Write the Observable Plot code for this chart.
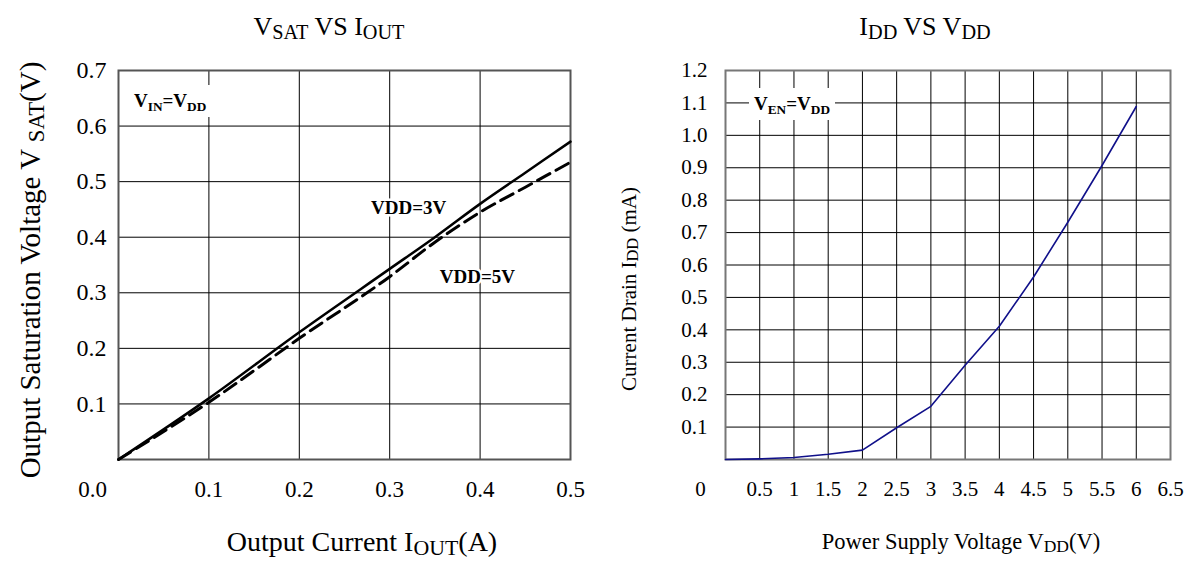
<!DOCTYPE html>
<html><head><meta charset="utf-8">
<script src="https://cdn.jsdelivr.net/npm/d3@7"></script>
<script src="https://cdn.jsdelivr.net/npm/@observablehq/plot@0.6"></script>
<style>
html,body{margin:0;padding:0;background:#fff;}
#wrap{position:relative;width:1190px;height:561px;overflow:hidden;font-family:"Liberation Serif","Times New Roman",serif;color:#000;}
.lbl{position:absolute;white-space:nowrap;line-height:1;}
.h{transform:translate(-50%,-50%);}
.v{transform:translate(-50%,-50%) rotate(-90deg);}
.lbl sub{font-size:0.78em;vertical-align:-0.18em;line-height:0;}
.ann{position:absolute;white-space:nowrap;line-height:1;background:#fff;font-weight:bold;font-size:19px;padding:6px 5px 7px 5px;}
.ann sub{font-size:0.7em;vertical-align:-0.3em;line-height:0;}
#left,#right{position:absolute;top:0;}
#left{left:0;}#right{left:595px;}
</style></head>
<body><div id="wrap">
<div id="left"></div><div id="right"></div>
<div class="lbl h" style="left:329px;top:27px;font-size:26px">V<sub>SAT</sub> VS I<sub>OUT</sub></div>
<div class="lbl h" style="left:925px;top:27px;font-size:26px">I<sub>DD</sub> VS V<sub>DD</sub></div>
<div class="lbl v" style="left:30px;top:270px;font-size:29px">Output Saturation Voltage V <sub>SAT</sub>(V)</div>
<div class="lbl h" style="left:362px;top:542px;font-size:28px">Output Current I<sub>OUT</sub>(A)</div>
<div class="lbl v" style="left:629px;top:289px;font-size:21px">Current Drain I<sub>DD</sub> (mA)</div>
<div class="lbl h" style="left:961px;top:542px;font-size:22.5px">Power Supply Voltage V<sub>DD</sub>(V)</div>
<div class="ann" style="left:129px;top:85px">V<sub>IN</sub>=V<sub>DD</sub></div>
<div class="ann" style="left:749px;top:88px">V<sub>EN</sub>=V<sub>DD</sub></div>
</div>
<script>
// ---- Left chart: V_SAT vs I_OUT ----
const ioutA = [0, 0.1, 0.2, 0.3, 0.35, 0.4, 0.45, 0.5];
const vsat3V = [0, 0.11, 0.229, 0.343, 0.40, 0.46, 0.516, 0.572];
const vsat5V = [0, 0.103, 0.218, 0.329, 0.391, 0.445, 0.49, 0.535];
const leftXTicks = [0, 0.1, 0.2, 0.3, 0.4, 0.5];
const leftYTicks = [0.1, 0.2, 0.3, 0.4, 0.5, 0.6, 0.7];
const seriesNames = ["VDD=3V", "VDD=5V"];
const seriesLabelX = [0.321, 0.397];
const seriesLabelY = [0.452, 0.329];

// ---- Right chart: I_DD vs V_DD ----
const vddV = [0, 0.5, 1, 1.5, 2, 2.5, 3, 3.5, 4, 4.5, 5, 5.5, 6];
const iddMA = [0, 0.002, 0.006, 0.016, 0.029, 0.098, 0.164, 0.291, 0.411, 0.563, 0.732, 0.907, 1.089];
const rightXTicks = [0, 0.5, 1, 1.5, 2, 2.5, 3, 3.5, 4, 4.5, 5, 5.5, 6, 6.5];
const rightYTicks = [0.1, 0.2, 0.3, 0.4, 0.5, 0.6, 0.7, 0.8, 0.9, 1.0, 1.1, 1.2];

const line3 = ioutA.map((x, i) => ({x, y: vsat3V[i]}));
const line5 = ioutA.map((x, i) => ({x, y: vsat5V[i]}));
const seriesLabels = seriesNames.map((t, i) => ({t, x: seriesLabelX[i], y: seriesLabelY[i]}));
const iddLine = vddV.map((x, i) => ({x, y: iddMA[i]}));
const f1 = d3.format(".1f");

const left = Plot.plot({
  width: 595, height: 561,
  marginLeft: 118, marginRight: 25, marginTop: 70, marginBottom: 102,
  x: {domain: [0, 0.5], label: null},
  y: {domain: [0, 0.7], label: null},
  style: {fontFamily: "Liberation Serif, serif", fontSize: "23px", color: "#000", background: "transparent", overflow: "visible"},
  marks: [
    Plot.ruleX(leftXTicks, {stroke: "#000", strokeWidth: 1}),
    Plot.ruleY(leftYTicks, {stroke: "#000", strokeWidth: 1}),
    Plot.frame({stroke: "#555", strokeWidth: 2}),
    Plot.axisX(leftXTicks.filter(d => d > 0), {tickSize: 0, tickPadding: 21, tickFormat: f1, label: null, fontSize: 23}),
    Plot.axisX([leftXTicks[0]], {tickSize: 0, tickPadding: 21, tickFormat: f1, label: null, dx: -26, fontSize: 23}),
    Plot.axisY(leftYTicks, {tickSize: 0, tickPadding: 12, tickFormat: f1, label: null, fontSize: 24}),
    Plot.line(line5, {x: "x", y: "y", stroke: "#000", strokeWidth: 3, strokeDasharray: "14,7", curve: "monotone-x"}),
    Plot.line(line3, {x: "x", y: "y", stroke: "#000", strokeWidth: 2.5, curve: "monotone-x"}),
    Plot.text(seriesLabels, {x: "x", y: "y", text: "t", fontWeight: "bold", fontSize: 19, fill: "#000", stroke: "#fff", strokeWidth: 5})
  ]
});
document.getElementById("left").appendChild(left);

const right = Plot.plot({
  width: 595, height: 561,
  marginLeft: 130, marginRight: 20, marginTop: 70, marginBottom: 102,
  x: {domain: [0, 6.5], label: null},
  y: {domain: [0, 1.2], label: null},
  style: {fontFamily: "Liberation Serif, serif", fontSize: "21px", color: "#000", background: "transparent", overflow: "visible"},
  marks: [
    Plot.ruleX(rightXTicks, {stroke: "#000", strokeWidth: 1}),
    Plot.ruleY(rightYTicks, {stroke: "#000", strokeWidth: 1}),
    Plot.frame({stroke: "#777", strokeWidth: 2}),
    Plot.axisX(rightXTicks.filter(d => d > 0), {tickSize: 0, tickPadding: 22, tickFormat: d => `${d}`, label: null, fontSize: 21}),
    Plot.axisX([rightXTicks[0]], {tickSize: 0, tickPadding: 22, tickFormat: d => `${d}`, label: null, dx: -25, fontSize: 21}),
    Plot.axisY(rightYTicks, {tickSize: 0, tickPadding: 18, tickFormat: f1, label: null, fontSize: 21}),
    Plot.line(iddLine, {x: "x", y: "y", stroke: "#10108a", strokeWidth: 1.6})
  ]
});
document.getElementById("right").appendChild(right);
</script>
</body></html>
